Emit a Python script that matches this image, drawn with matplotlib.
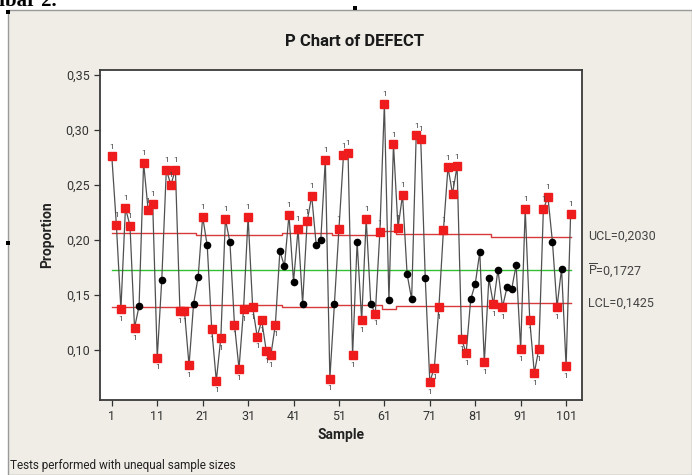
import numpy as np
import matplotlib.pyplot as plt
from matplotlib.patches import Rectangle
from matplotlib.transforms import blended_transform_factory

plt.rcParams['font.family'] = ['Roboto', 'DejaVu Sans']
plt.rcParams['mathtext.fontset'] = 'custom'
plt.rcParams['mathtext.rm'] = 'Roboto'

# proportion defective per sample
proportion = [
    0.276, 0.214, 0.137, 0.229, 0.213, 0.120, 0.140, 0.270, 0.227, 0.233,
    0.093, 0.164, 0.264, 0.250, 0.264, 0.135, 0.135, 0.086, 0.142, 0.166,
    0.221, 0.195, 0.119, 0.072, 0.111, 0.219, 0.198, 0.123, 0.083, 0.137,
    0.221, 0.139, 0.112, 0.127, 0.099, 0.095, 0.123, 0.190, 0.176, 0.223,
    0.162, 0.210, 0.142, 0.217, 0.240, 0.195, 0.200, 0.273, 0.074, 0.142,
    0.210, 0.277, 0.279, 0.095, 0.198, 0.127, 0.219, 0.142, 0.133, 0.207,
    0.324, 0.145, 0.287, 0.211, 0.241, 0.169, 0.146, 0.295, 0.292, 0.165,
    0.071, 0.084, 0.139, 0.209, 0.266, 0.242, 0.267, 0.110, 0.097, 0.146,
    0.160, 0.189, 0.089, 0.165, 0.1415, 0.173, 0.139, 0.157, 0.155, 0.177,
    0.101, 0.228, 0.127, 0.079, 0.101, 0.228, 0.239, 0.198, 0.139, 0.174,
    0.085, 0.224,
]
p_bar = 0.1727

# limits change with sample size: (first sample, last sample, UCL, LCL)
limit_segments = [
    (1, 19, 0.2065, 0.1389),
    (20, 38, 0.2045, 0.1409),
    (39, 49, 0.2060, 0.1394),
    (50, 60, 0.2045, 0.1409),
    (61, 63, 0.2080, 0.1374),
    (64, 84, 0.2050, 0.1404),
    (85, 102, 0.2030, 0.1425),
]

x_ticks = [1, 11, 21, 31, 41, 51, 61, 71, 81, 91, 101]
y_ticks = [0.10, 0.15, 0.20, 0.25, 0.30, 0.35]

W, H = 692, 475
fig = plt.figure(figsize=(W / 100, H / 100), dpi=100, facecolor='white')

# minitab style beige graph region (behind the axes)
fig.patches.append(Rectangle((8 / W, 0), 1 - 8 / W, (H - 10) / H, transform=fig.transFigure,
                             facecolor='#EFEDE6', edgecolor='#9a9a9a', lw=1.0, zorder=-5))
# word selection handles
for hx, hy in [(355, 8), (8, 243), (8, 12)]:
    fig.patches.append(Rectangle(((hx - 2) / W, 1 - (hy + 2) / H), 4 / W, 4 / H,
                                 transform=fig.transFigure, facecolor='black', edgecolor='none', zorder=5))
# caption of the document, cut off at the top edge like in the screenshot
fig.text(57 / W, 1 - 6 / H, 'Gambar 2.', ha='right', va='baseline', fontsize=15,
         family='Liberation Serif', weight='bold', color='black')

ax = fig.add_axes([100 / W, (H - 400) / H, 482 / W, 330 / H])
ax.set_facecolor('white')

samples = np.arange(1, len(proportion) + 1)
p = np.array(proportion)
ucl = np.zeros(len(p))
lcl = np.zeros(len(p))
for first, last, u, l in limit_segments:
    ucl[first - 1:last] = u
    lcl[first - 1:last] = l

ax.plot(samples, ucl, drawstyle='steps-mid', color='#D83A3A', lw=1.0, zorder=2)
ax.plot(samples, lcl, drawstyle='steps-mid', color='#D83A3A', lw=1.0, zorder=2)
ax.plot([samples[0], samples[-1]], [p_bar, p_bar], color='#33C033', lw=1.0, zorder=2)

ax.plot(samples, p, color='#505050', lw=0.9, zorder=3)

above = p > ucl
below = p < lcl
out = above | below
ax.plot(samples[~out], p[~out], 'o', color='black', ms=4.5, zorder=4)
ax.plot(samples[out], p[out], 's', color='#EE1C1C', ms=6, mec='#EE1C1C', zorder=4)
for s, v, a in zip(samples[out], p[out], above[out]):
    ax.annotate('1', (s, v), xytext=(0, 7 if a else -7), textcoords='offset points',
                ha='center', va='center', fontsize=6, color='#444444', zorder=5)

ax.set_xlim(-1.6, 104.5)
ax.set_ylim(0.0545, 0.3545)
ax.set_xticks(x_ticks)
ax.set_yticks(y_ticks)
ax.set_yticklabels([f'{v:.2f}'.replace('.', ',') for v in y_ticks])
ax.tick_params(direction='out', length=4, width=0.9, colors='#333333', labelsize=9)
for sp in ax.spines.values():
    sp.set_color('#3a3a3a')
    sp.set_linewidth(1.3)

ax.set_xlabel('Sample', fontsize=10, weight='bold', color='#222222', labelpad=3)
ax.set_ylabel('Proportion', fontsize=10, weight='bold', color='#222222', labelpad=8)
fig.text(355 / W, 1 - 42 / H, 'P Chart of DEFECT', ha='center', va='center',
         fontsize=12, weight='bold', color='#1a1a1a')

tr = blended_transform_factory(ax.transAxes, ax.transData)
lab_x = 1 + 6 / 482
ax.text(lab_x, ucl[-1], f'UCL={ucl[-1]:.4f}'.replace('.', ','), transform=tr,
        va='center', fontsize=9, color='#444444')
ax.text(lab_x, p_bar, r'$\overline{\mathrm{P}}$' + f'={p_bar:.4f}'.replace('.', ','), transform=tr,
        va='center', fontsize=9, color='#444444')
ax.text(lab_x, lcl[-1], f'LCL={lcl[-1]:.4f}'.replace('.', ','), transform=tr,
        va='center', fontsize=9, color='#444444')

fig.text(10 / W, 1 - 465 / H, 'Tests performed with unequal sample sizes', ha='left',
         va='center', fontsize=8.5, color='#222222')

fig.savefig('out.png', dpi=100, facecolor=fig.get_facecolor())
